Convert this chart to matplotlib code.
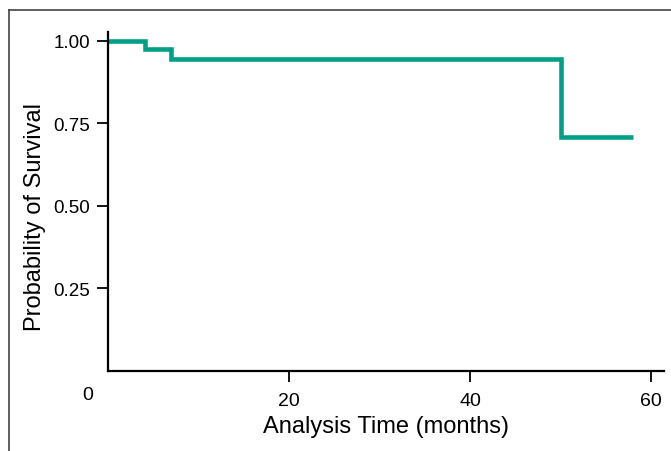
import matplotlib
matplotlib.use('Agg')
import matplotlib.pyplot as plt
from matplotlib.lines import Line2D

# Kaplan-Meier step data
time_months = [0, 4.1, 7.0, 50, 58.0]
survival = [1.0, 0.974, 0.945, 0.710, 0.710]

y_ticks = [0.25, 0.50, 0.75, 1.00]
y_tick_labels = ['0.25', '0.50', '0.75', '1.00']
x_ticks = [20, 40, 60]
x_tick_labels = ['20', '40', '60']

W, H = 671, 452
fig = plt.figure(figsize=(W / 100, H / 100), dpi=100)
# axes box in pixels: left 108, right 664, bottom 372, top 33
ax = fig.add_axes([108 / W, (H - 372) / H, (664 - 108) / W, (372 - 33) / H])

ax.step(time_months, survival, where='post', color='#00a086', lw=3.3,
        solid_capstyle='butt', solid_joinstyle='miter')

ax.set_xlim(0, 61.4)
ax.set_ylim(0, 1.027)

for s in ['top', 'right']:
    ax.spines[s].set_visible(False)
for s in ['left', 'bottom']:
    ax.spines[s].set_linewidth(1.6)

ax.set_yticks(y_ticks)
ax.set_yticklabels(y_tick_labels, family='Liberation Sans', fontsize=13.5)
ax.set_xticks(x_ticks)
ax.set_xticklabels(x_tick_labels, family='Liberation Sans', fontsize=14)
ax.tick_params(axis='both', length=8, width=1.3)
ax.tick_params(axis='y', pad=5)
ax.tick_params(axis='x', pad=7)

ax.set_xlabel('Analysis Time (months)', family='Liberation Sans', fontsize=17)
ax.xaxis.set_label_coords(0.5, -(427 - 372) / (372 - 33))
ax.xaxis.label.set_va('center')
ax.set_ylabel('Probability of Survival', family='Liberation Sans', fontsize=17)
ax.yaxis.set_label_coords(-(108 - 35) / (664 - 108), 1 - (217 - 33) / (372 - 33))
ax.yaxis.label.set_va('center')

# origin label sits left of the axis
fig.text(88 / W, 1 - 396 / H, '0', family='Liberation Sans', fontsize=14,
         ha='center', va='center')

# partial outer frame
fig.add_artist(Line2D([9 / W, 1], [1 - 10.5 / H, 1 - 10.5 / H],
                      color='#444444', lw=1.2))
fig.add_artist(Line2D([9 / W, 9 / W], [0, 1 - 10.5 / H],
                      color='#444444', lw=1.2))

fig.savefig('out.png', dpi=100)
